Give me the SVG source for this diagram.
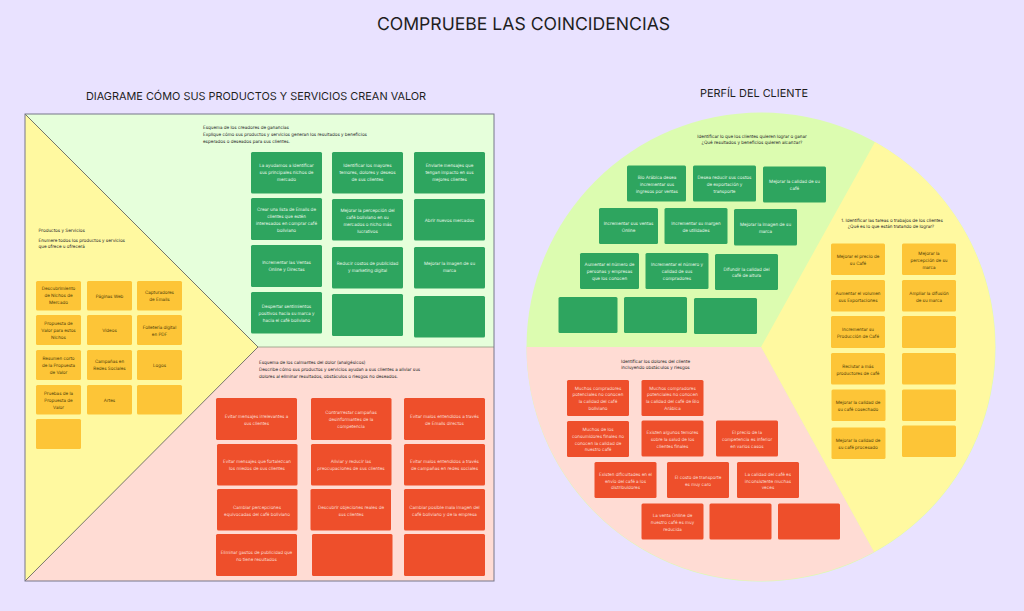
<svg xmlns="http://www.w3.org/2000/svg" width="1024" height="611" viewBox="0 0 1024 611">
<style>
text{font-family:Inter,"Noto Sans","Liberation Sans",sans-serif;text-rendering:geometricPrecision}
.h{font-size:17.6px;fill:#1e1e1e;text-anchor:middle}
.s{font-size:10.9px;fill:#1e1e1e;text-anchor:middle}
.d{font-size:4.5px;fill:#2b2b2b}
.m{text-anchor:middle}
.g rect{fill:#2ea55f}.r rect{fill:#ee4f2b}.o rect{fill:#fdc537}
.g text,.r text{font-size:4.500px;fill:#e4f5e6;text-anchor:middle}
.r text{fill:#fbd9cc}
.o text{font-size:4.500px;fill:#54440a;text-anchor:middle}
</style>
<rect width="1024" height="611" fill="#e9e2ff"/>
<text class="h" x="523.500" y="30">COMPRUEBE LAS COINCIDENCIAS</text>
<text class="s" x="256" y="99.500">DIAGRAME CÓMO SUS PRODUCTOS Y SERVICIOS CREAN VALOR</text>
<text class="s" x="754" y="96.500">PERFÍL DEL CLIENTE</text>

<g id="canvas-izquierdo">
<rect x="25" y="114" width="469" height="233" fill="#e6ffdb"/>
<rect x="25" y="347" width="469" height="234" fill="#ffdcd4"/>
<path d="M25 114L258 347L25 581Z" fill="#fff9a0"/>
<path d="M25 114L258 347L25 581" fill="none" stroke="#77776a" stroke-width="1"/>
<path d="M258 347H494" fill="none" stroke="#8f9a80" stroke-width="0.800"/>
<rect x="25" y="114" width="469" height="467" fill="none" stroke="#77778a" stroke-width="1"/>
</g>
<g id="canvas-derecho">
<circle cx="761" cy="347" r="234.500" fill="#dcfcb0"/>
<path d="M761 347L875 142A234.500 234.500 0 0 1 874 552Z" fill="#fff9a0"/>
<path d="M761 347L874 552A234.500 234.500 0 0 1 526.500 347Z" fill="#ffdcd4"/>
</g>

<g id="desc-productos"><text class="d" x="38.500" y="232">Productos y Servicios</text><text class="d" x="38.500" y="242">Enumere todos los productos y servicios</text><text class="d" x="38.500" y="248">que ofrece u ofrecerá</text></g>
<g id="desc-ganancias"><text class="d" x="203" y="129">Esquema de los creadores de ganancias</text><text class="d" x="203" y="136">Explique cómo sus productos y servicios generan los resultados y beneficios</text><text class="d" x="203" y="143">esperados o deseados para sus clientes.</text></g>
<g id="desc-dolor"><text class="d" x="259" y="364">Esquema de los calmantes del dolor (analgésicos)</text><text class="d" x="259" y="371">Describe cómo sus productos y servicios ayudan a sus clientes a aliviar sus</text><text class="d" x="259" y="378">dolores al eliminar resultados, obstáculos o riesgos no deseados.</text></g>
<g id="desc-logros"><text class="d m" x="752" y="138">Identificar lo que los clientes quieren lograr o ganar</text><text class="d m" x="752" y="143.500">¿Qué resultados y beneficios quieren alcanzar?</text></g>
<g id="desc-dolores"><text class="d m" x="655.500" y="363">Identificar los dolores del cliente</text><text class="d m" x="655.500" y="369">incluyendo obstáculos y riesgos</text></g>
<g id="desc-tareas"><text class="d m" x="892" y="222">1. Identificar las tareas o trabajos de los clientes</text><text class="d m" x="891" y="227.500">¿Qué es lo que están tratando de lograr?</text></g>

<g id="productos" class="o">
<g id="p1"><rect x="36" y="281" width="45" height="29.500" rx="1.500"/><text x="58.500" y="290">Descubrimiento</text><text x="58.500" y="297">de Nichos de</text><text x="58.500" y="304">Mercado</text></g>
<g id="p2"><rect x="87" y="281" width="45" height="29.500" rx="1.500"/><text x="109.500" y="297.500">Páginas Web</text></g>
<g id="p3"><rect x="137" y="281" width="45" height="29.500" rx="1.500"/><text x="159.500" y="294">Capturadores</text><text x="159.500" y="301">de Emails</text></g>
<g id="p4"><rect x="36" y="315" width="45" height="30" rx="1.500"/><text x="58.500" y="325">Propuesta de</text><text x="58.500" y="332">Valor para estos</text><text x="58.500" y="339">Nichos</text></g>
<g id="p5"><rect x="87" y="315" width="45" height="30" rx="1.500"/><text x="109.500" y="332">Videos</text></g>
<g id="p6"><rect x="137" y="315" width="45" height="30" rx="1.500"/><text x="159.500" y="329">Folletería digital</text><text x="159.500" y="336">en PDF</text></g>
<g id="p7"><rect x="36" y="350" width="45" height="30" rx="1.500"/><text x="58.500" y="360">Resumen corto</text><text x="58.500" y="367">de la Propuesta</text><text x="58.500" y="374">de Valor</text></g>
<g id="p8"><rect x="87" y="350" width="45" height="30" rx="1.500"/><text x="109.500" y="363">Campañas en</text><text x="109.500" y="370">Redes Sociales</text></g>
<g id="p9"><rect x="137" y="350" width="45" height="30" rx="1.500"/><text x="159.500" y="367">Logos</text></g>
<g id="p10"><rect x="36" y="385" width="45" height="29.500" rx="1.500"/><text x="58.500" y="395">Pruebas de la</text><text x="58.500" y="402">Propuesta de</text><text x="58.500" y="409">Valor</text></g>
<g id="p11"><rect x="87" y="385" width="45" height="29.500" rx="1.500"/><text x="109.500" y="401.500">Artes</text></g>
<g id="p12"><rect x="137" y="385" width="45" height="29.500" rx="1.500"/></g>
<g id="p13"><rect x="36" y="419" width="45" height="30" rx="1.500"/></g>
</g>

<g id="ganancias" class="g">
<g id="g1"><rect x="251" y="152" width="71" height="41.500" rx="1.500"/><text x="286.500" y="167">La ayudamos a identificar</text><text x="286.500" y="174">sus principales nichos de</text><text x="286.500" y="181">mercado</text></g>
<g id="g2"><rect x="332" y="152" width="71" height="41.500" rx="1.500"/><text x="367.500" y="167">Identificar los mayores</text><text x="367.500" y="174">temores, dolores y deseos</text><text x="367.500" y="181">de sus clientes</text></g>
<g id="g3"><rect x="414" y="152" width="71" height="41.500" rx="1.500"/><text x="449.500" y="167">Enviarle mensajes que</text><text x="449.500" y="174">tengan impacto en sus</text><text x="449.500" y="181">mejores clientes</text></g>
<g id="g4"><rect x="251" y="198" width="71" height="42" rx="1.500"/><text x="286.500" y="211">Crear una lista de Emails de</text><text x="286.500" y="218">clientes que estén</text><text x="286.500" y="225">interesados en comprar café</text><text x="286.500" y="232">boliviano</text></g>
<g id="g5"><rect x="332" y="199" width="71" height="41.500" rx="1.500"/><text x="367.500" y="212">Mejorar la percepción del</text><text x="367.500" y="219">café boliviano en su</text><text x="367.500" y="226">mercados o nicho más</text><text x="367.500" y="233">lucrativos</text></g>
<g id="g6"><rect x="414" y="199" width="71" height="41.500" rx="1.500"/><text x="449.500" y="222">Abrir nuevos mercados</text></g>
<g id="g7"><rect x="251" y="245" width="71" height="42" rx="1.500"/><text x="286.500" y="264">Incrementar las Ventas</text><text x="286.500" y="271">Online y Directas</text></g>
<g id="g8"><rect x="332" y="247" width="71" height="41.500" rx="1.500"/><text x="367.500" y="265">Reducir costos de publicidad</text><text x="367.500" y="272">y marketing digital</text></g>
<g id="g9"><rect x="414" y="247" width="71" height="41.500" rx="1.500"/><text x="449.500" y="265">Mejorar la imagen de su</text><text x="449.500" y="272">marca</text></g>
<g id="g10"><rect x="251" y="292" width="71" height="41.500" rx="1.500"/><text x="286.500" y="308">Despertar sentimientos</text><text x="286.500" y="315">positivos hacia su marca y</text><text x="286.500" y="322">hacia el café boliviano</text></g>
<g id="g11"><rect x="332" y="294" width="71" height="42" rx="1.500"/></g>
<g id="g12"><rect x="414" y="296" width="71" height="41.500" rx="1.500"/></g>
</g>

<g id="calmantes" class="r">
<g id="c1"><rect x="216" y="398" width="81" height="42" rx="1.500"/><text x="256.500" y="418">Evitar mensajes irrelevantes a</text><text x="256.500" y="425">sus clientes</text></g>
<g id="c2"><rect x="311" y="398" width="80.500" height="42" rx="1.500"/><text x="351" y="414">Contrarrestar campañas</text><text x="351" y="421">desinformantes de la</text><text x="351" y="428">competencia</text></g>
<g id="c3"><rect x="404" y="398" width="81" height="42" rx="1.500"/><text x="444.500" y="418">Evitar malos entendidos a través</text><text x="444.500" y="425">de Emails directos</text></g>
<g id="c4"><rect x="217" y="444" width="80.500" height="41.500" rx="1.500"/><text x="257" y="463">Evitar mensajes que fortalezcan</text><text x="257" y="470">los miedos de sus clientes</text></g>
<g id="c5"><rect x="311" y="444" width="80.500" height="41.500" rx="1.500"/><text x="351" y="463">Aliviar y reducir las</text><text x="351" y="470">preocupaciones de sus clientes</text></g>
<g id="c6"><rect x="404" y="444" width="81" height="41.500" rx="1.500"/><text x="444.500" y="463">Evitar malos entendidos a través</text><text x="444.500" y="470">de campañas en redes sociales</text></g>
<g id="c7"><rect x="217" y="489" width="80.500" height="41.500" rx="1.500"/><text x="257" y="508.500">Cambiar percepciones</text><text x="257" y="515.500">equivocadas del café boliviano</text></g>
<g id="c8"><rect x="310.500" y="489" width="80.500" height="41.500" rx="1.500"/><text x="351" y="508.500">Descubrir objeciones reales de</text><text x="351" y="515.500">sus clientes</text></g>
<g id="c9"><rect x="404" y="489" width="81" height="41.500" rx="1.500"/><text x="444.500" y="508.500">Cambiar posible mala imagen del</text><text x="444.500" y="515.500">café boliviano y de la empresa</text></g>
<g id="c10"><rect x="216" y="534" width="81" height="42" rx="1.500"/><text x="256.500" y="553.500">Eliminar gastos de publicidad que</text><text x="256.500" y="560.500">no tiene resultados</text></g>
<g id="c11"><rect x="312" y="534" width="80.500" height="42" rx="1.500"/></g>
<g id="c12"><rect x="404" y="534" width="81" height="42" rx="1.500"/></g>
</g>

<g id="logros" class="g">
<g id="l1"><rect x="627" y="165.500" width="59" height="36" rx="1.500"/><text x="657" y="179">Bio Arábica desea</text><text x="657" y="185.500">incrementar sus</text><text x="657" y="192.500">ingresos por ventas</text></g>
<g id="l2"><rect x="693" y="165.500" width="63" height="36" rx="1.500"/><text x="724.500" y="179">Desea reducir sus costos</text><text x="724.500" y="185.500">de exportación y</text><text x="724.500" y="192.500">transporte</text></g>
<g id="l3"><rect x="763" y="166.500" width="63" height="36" rx="1.500"/><text x="794.500" y="183">Mejorar la calidad de su</text><text x="794.500" y="190">café</text></g>
<g id="l4"><rect x="599" y="208" width="59" height="36" rx="1.500"/><text x="628.500" y="225">Incrementar sus ventas</text><text x="628.500" y="232">Online</text></g>
<g id="l5"><rect x="664.500" y="208" width="63" height="36" rx="1.500"/><text x="696" y="225">Incrementar su margen</text><text x="696" y="232">de utilidades</text></g>
<g id="l6"><rect x="734" y="209" width="63" height="36.500" rx="1.500"/><text x="765.500" y="226">Mejorar la imagen de su</text><text x="765.500" y="233">marca</text></g>
<g id="l7"><rect x="580" y="253" width="59" height="36" rx="1.500"/><text x="609.500" y="266">Aumentar el número de</text><text x="609.500" y="273">personas y empresas</text><text x="609.500" y="280">que los conocen</text></g>
<g id="l8"><rect x="645.500" y="253" width="63" height="36" rx="1.500"/><text x="677" y="266">Incrementar el número y</text><text x="677" y="273">calidad de sus</text><text x="677" y="280">compradores</text></g>
<g id="l9"><rect x="715" y="254" width="63" height="36" rx="1.500"/><text x="746.500" y="270.500">Difundir la calidad del</text><text x="746.500" y="277">café de altura</text></g>
<g id="l10"><rect x="558.500" y="297" width="59" height="36" rx="1.500"/></g>
<g id="l11"><rect x="624" y="297" width="63" height="36" rx="1.500"/></g>
<g id="l12"><rect x="694" y="298" width="63" height="36" rx="1.500"/></g>
</g>

<g id="dolores" class="r">
<g id="d1"><rect x="567" y="380" width="62" height="36" rx="1.500"/><text x="598" y="389.500">Muchos compradores</text><text x="598" y="396">potenciales no conocen</text><text x="598" y="403">la calidad del café</text><text x="598" y="410">boliviano</text></g>
<g id="d2"><rect x="641.500" y="380" width="62" height="36" rx="1.500"/><text x="672.500" y="389.500">Muchos compradores</text><text x="672.500" y="396">potenciales no conocen</text><text x="672.500" y="403">la calidad del café de Bio</text><text x="672.500" y="410">Arábica</text></g>
<g id="d3"><rect x="567" y="421" width="62" height="36" rx="1.500"/><text x="598" y="431">Muchos de los</text><text x="598" y="437.500">consumidores finales no</text><text x="598" y="444.500">conocen la calidad de</text><text x="598" y="451">nuestro café</text></g>
<g id="d4"><rect x="641.500" y="420.500" width="62" height="36" rx="1.500"/><text x="672.500" y="434">Existen algunos temores</text><text x="672.500" y="441">sobre la salud de los</text><text x="672.500" y="448">clientes finales</text></g>
<g id="d5"><rect x="716" y="420.500" width="62" height="36" rx="1.500"/><text x="747" y="434">El precio de la</text><text x="747" y="441">competencia es inferior</text><text x="747" y="448">en varios casos</text></g>
<g id="d6"><rect x="594.500" y="462" width="62" height="36" rx="1.500"/><text x="625.500" y="475.500">Existen dificultades en el</text><text x="625.500" y="482.500">envío del café a los</text><text x="625.500" y="489">distribuidores</text></g>
<g id="d7"><rect x="667" y="462" width="62" height="36" rx="1.500"/><text x="698" y="479">El costo de transporte</text><text x="698" y="486">es muy caro</text></g>
<g id="d8"><rect x="737" y="462" width="62" height="36" rx="1.500"/><text x="768" y="475.500">La calidad del café es</text><text x="768" y="482.500">inconsistente muchas</text><text x="768" y="489">veces</text></g>
<g id="d9"><rect x="641.500" y="503.500" width="62" height="36" rx="1.500"/><text x="672.500" y="517">La venta Online de</text><text x="672.500" y="524">nuestro café es muy</text><text x="672.500" y="531">reducida</text></g>
<g id="d10"><rect x="709.500" y="503.500" width="62" height="36" rx="1.500"/></g>
<g id="d11"><rect x="778" y="503.500" width="62" height="36" rx="1.500"/></g>
</g>

<g id="tareas" class="o">
<g id="t1"><rect x="831" y="243.500" width="54" height="31.500" rx="1.500"/><text x="858" y="258">Mejorar el precio de</text><text x="858" y="265">su Café</text></g>
<g id="t2"><rect x="902" y="243.500" width="54" height="31.500" rx="1.500"/><text x="929" y="254.500">Mejorar la</text><text x="929" y="261.500">percepción de su</text><text x="929" y="268.500">marca</text></g>
<g id="t3"><rect x="831" y="280" width="54" height="31.500" rx="1.500"/><text x="858" y="294.500">Aumentar el volumen</text><text x="858" y="301.500">sus Exportaciones</text></g>
<g id="t4"><rect x="902" y="280" width="54" height="31.500" rx="1.500"/><text x="929" y="294.500">Ampliar la difusión</text><text x="929" y="301.500">de su marca</text></g>
<g id="t5"><rect x="831" y="316" width="54" height="32" rx="1.500"/><text x="858" y="331">Incrementar su</text><text x="858" y="338">Producción de Café</text></g>
<g id="t6"><rect x="902" y="316" width="54" height="32" rx="1.500"/></g>
<g id="t7"><rect x="831" y="353" width="54" height="31.500" rx="1.500"/><text x="858" y="367.500">Reclutar a más</text><text x="858" y="374.500">productores de café</text></g>
<g id="t8"><rect x="902" y="353" width="54" height="31.500" rx="1.500"/></g>
<g id="t9"><rect x="831.500" y="389.500" width="54" height="31.500" rx="1.500"/><text x="858" y="404">Mejorar la calidad de</text><text x="858" y="411">su café cosechado</text></g>
<g id="t10"><rect x="902" y="389.500" width="54" height="31.500" rx="1.500"/></g>
<g id="t11"><rect x="831.500" y="427.500" width="54" height="31.500" rx="1.500"/><text x="858" y="442">Mejorar la calidad de</text><text x="858" y="449">su café procesado</text></g>
<g id="t12"><rect x="902" y="425.500" width="54" height="31.500" rx="1.500"/></g>
</g>
</svg>
